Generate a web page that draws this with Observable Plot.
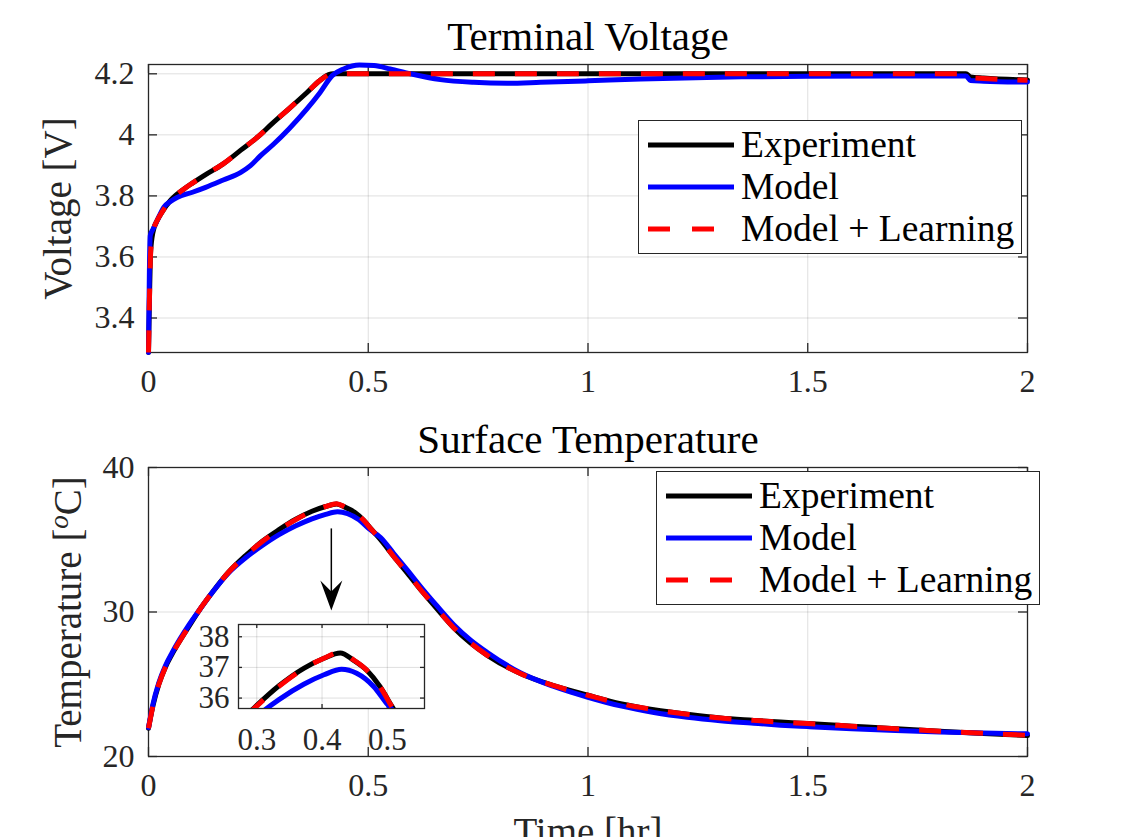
<!DOCTYPE html>
<html><head><meta charset="utf-8">
<script src="https://cdn.jsdelivr.net/npm/d3@7"></script>
<script src="https://cdn.jsdelivr.net/npm/@observablehq/plot@0.6"></script>
<style>
html,body{margin:0;padding:0;background:#fff;overflow:hidden}
#fig{position:relative;width:1136px;height:837px;overflow:hidden;background:#fff;font-family:"Liberation Serif","Times New Roman",serif;color:#262626}
.slot{position:absolute}
.legend{position:absolute;width:384px;height:134px;border:1.3px solid #262626;background:#fff;box-sizing:border-box}
.legend .row{position:absolute;left:0;height:42px;display:flex;align-items:center}
.legend .row svg{margin-left:9px;margin-right:7px;display:block}
.legend .row span{font-size:37.5px;line-height:42px;color:#000;white-space:nowrap}
</style></head><body><div id="fig"></div><script>
// ---------- data ----------
const seriesNames = ["Experiment", "Model", "Model + Learning"];
const seriesColors = ["#000000", "#0000ff", "#ff0000"];

const timeTicks = [0, 0.5, 1, 1.5, 2];
const voltTicks = [3.4, 3.6, 3.8, 4, 4.2];
const tempTicks = [20, 30, 40];
const insetTimeTicks = [0.3, 0.4, 0.5];
const insetTempTicks = [36, 37, 38];

// Terminal voltage [V] vs time [hr]
const voltTimeExp = [0, 0.002, 0.005, 0.01, 0.02, 0.03, 0.05, 0.08, 0.1, 0.13, 0.17, 0.21, 0.25, 0.28, 0.32, 0.36, 0.39, 0.41, 0.42, 0.6, 1.0, 1.5, 1.86, 1.87, 1.9, 2.0];
const voltExp   = [3.287, 3.45, 3.62, 3.68, 3.72, 3.745, 3.785, 3.822, 3.842, 3.87, 3.905, 3.95, 3.995, 4.035, 4.086, 4.138, 4.178, 4.197, 4.2, 4.2, 4.2, 4.2, 4.2, 4.19, 4.186, 4.18];
const voltLearn = [3.287, 3.45, 3.62, 3.68, 3.72, 3.745, 3.785, 3.822, 3.842, 3.87, 3.905, 3.95, 3.995, 4.035, 4.086, 4.138, 4.178, 4.197, 4.2, 4.2, 4.2, 4.2, 4.2, 4.188, 4.185, 4.179];
const voltTimeModel = [0, 0.002, 0.004, 0.01, 0.02, 0.035, 0.05, 0.065, 0.1, 0.13, 0.17, 0.21, 0.232, 0.255, 0.285, 0.32, 0.36, 0.39, 0.418, 0.444, 0.48, 0.513, 0.55, 0.596, 0.664, 0.74, 0.816, 0.892, 1.0, 1.12, 1.27, 1.35, 1.5, 1.7, 1.86, 1.87, 1.9, 2.0];
const voltModel = [3.287, 3.55, 3.67, 3.69, 3.72, 3.763, 3.782, 3.795, 3.812, 3.828, 3.852, 3.877, 3.899, 3.932, 3.97, 4.02, 4.084, 4.138, 4.194, 4.216, 4.229, 4.227, 4.216, 4.2, 4.181, 4.172, 4.169, 4.172, 4.177, 4.183, 4.188, 4.19, 4.192, 4.193, 4.193, 4.178, 4.176, 4.173];

// Surface temperature [C] vs time [hr]
const tempTimeExp = [0, 0.01, 0.0235, 0.038, 0.054, 0.092, 0.115, 0.145, 0.182, 0.221, 0.259, 0.297, 0.334, 0.372, 0.403, 0.428, 0.448, 0.469, 0.489, 0.507, 0.528, 0.558, 0.589, 0.626, 0.657, 0.695, 0.733, 0.771, 0.846, 0.922, 1.0, 1.074, 1.15, 1.226, 1.301, 1.377, 1.438, 1.5, 1.6, 1.7, 1.8, 1.9, 2.0];
const tempExp   = [21.95, 23.5, 25.0, 26.15, 27.1, 29.0, 30.1, 31.35, 32.75, 33.9, 34.9, 35.7, 36.4, 36.97, 37.3, 37.47, 37.24, 36.9, 36.37, 35.73, 35.0, 33.84, 32.69, 31.3, 30.2, 28.9, 27.85, 27.0, 25.74, 24.9, 24.24, 23.66, 23.24, 22.92, 22.66, 22.5, 22.38, 22.28, 22.1, 21.92, 21.75, 21.6, 21.45];
const tempLearn = [21.95, 23.5, 25.0, 26.15, 27.1, 29.0, 30.1, 31.35, 32.75, 33.9, 34.88, 35.68, 36.38, 36.96, 37.3, 37.5, 37.25, 36.9, 36.36, 35.72, 35.0, 33.84, 32.69, 31.3, 30.2, 28.9, 27.85, 27.0, 25.74, 24.9, 24.24, 23.66, 23.24, 22.92, 22.66, 22.5, 22.38, 22.28, 22.1, 21.92, 21.75, 21.6, 21.47];
const tempTimeModel = [0, 0.01, 0.0235, 0.038, 0.054, 0.092, 0.115, 0.145, 0.182, 0.221, 0.259, 0.297, 0.334, 0.372, 0.403, 0.43, 0.453, 0.479, 0.5, 0.528, 0.558, 0.589, 0.626, 0.657, 0.695, 0.733, 0.771, 0.846, 0.922, 1.0, 1.074, 1.15, 1.226, 1.301, 1.377, 1.438, 1.5, 1.6, 1.7, 1.8, 1.9, 2.0];
const tempModel = [22.0, 23.6, 25.1, 26.25, 27.2, 29.1, 30.1, 31.35, 32.7, 33.75, 34.6, 35.35, 35.95, 36.45, 36.76, 36.94, 36.81, 36.38, 35.8, 35.15, 34.05, 32.9, 31.5, 30.4, 29.1, 28.05, 27.2, 25.8, 24.85, 24.1, 23.5, 23.05, 22.72, 22.48, 22.3, 22.17, 22.07, 21.92, 21.8, 21.7, 21.62, 21.57];

// annotation arrow (time, temperature): tail and tip
const arrowTail = [0.416, 35.75];
const arrowTip  = [0.416, 30.1];

// ---------- helpers ----------
const FONT = "Liberation Serif, Times New Roman, serif";
const AX = "#262626";
const rows = (ts, vs) => ts.map((t, i) => ({t, v: vs[i]}));
const LW = 5;

function seriesMarks(expT, expV, modT, modV, lrnV, extra = {}) {
  return [
    Plot.line(rows(expT, expV), {x: "t", y: "v", stroke: seriesColors[0], strokeWidth: LW, curve: "monotone-x", ...extra}),
    Plot.line(rows(modT, modV), {x: "t", y: "v", stroke: seriesColors[1], strokeWidth: LW, curve: "monotone-x", ...extra}),
    Plot.line(rows(expT, lrnV), {x: "t", y: "v", stroke: seriesColors[2], strokeWidth: LW, curve: "monotone-x", strokeDasharray: "22,20", strokeLinecap: "butt", ...extra})
  ];
}
function gridMarks(xt, yt) {
  return [
    Plot.ruleX(xt, {x: d => d, stroke: AX, strokeOpacity: 0.15, strokeWidth: 1}),
    Plot.ruleY(yt, {y: d => d, stroke: AX, strokeOpacity: 0.15, strokeWidth: 1})
  ];
}
function boxMarks(xt, yt, w, h, len) {
  return [
    Plot.frame({stroke: AX, strokeWidth: 1.3}),
    Plot.tickX(xt, {x: d => d, insetTop: h - len, stroke: AX, strokeWidth: 1.3}),
    Plot.tickX(xt, {x: d => d, insetBottom: h - len, stroke: AX, strokeWidth: 1.3}),
    Plot.tickY(yt, {y: d => d, insetRight: w - len, stroke: AX, strokeWidth: 1.3}),
    Plot.tickY(yt, {y: d => d, insetLeft: w - len, stroke: AX, strokeWidth: 1.3})
  ];
}
function axisMarks(xt, yt, xpad, ypad, fs) {
  return [
    Plot.axisX({ticks: xt, tickSize: 0, tickPadding: xpad, fontSize: fs, fontFamily: FONT, fontVariant: "normal", fill: AX, tickFormat: d => String(d), label: null}),
    Plot.axisY({ticks: yt, tickSize: 0, tickPadding: ypad, fontSize: fs, fontFamily: FONT, fontVariant: "normal", fill: AX, tickFormat: d => String(d), label: null})
  ];
}
function place(el, left, top, width) {
  const d = document.createElement("div");
  d.className = "slot";
  d.style.left = left + "px"; d.style.top = top + "px"; d.style.width = width + "px";
  d.appendChild(el);
  document.getElementById("fig").appendChild(d);
}
function legend(left, top) {
  const box = document.createElement("div");
  box.className = "legend";
  box.style.left = left + "px"; box.style.top = top + "px";
  const centers = [25, 67, 109];
  seriesNames.forEach((name, i) => {
    const r = document.createElement("div");
    r.className = "row";
    r.style.top = (centers[i] - 22) + "px";
    const dash = i === 2 ? ' stroke-dasharray="22,22"' : "";
    r.innerHTML = `<svg width="86" height="10"><line x1="0" x2="86" y1="5" y2="5" stroke="${seriesColors[i]}" stroke-width="${LW}"${dash}/></svg><span>${name}</span>`;
    box.appendChild(r);
  });
  document.getElementById("fig").appendChild(box);
}
const svgStyle = {fontFamily: FONT, fontSize: "32px", color: AX, background: "transparent", overflow: "visible"};
const txt = (s, o) => Plot.text([s], {text: d => d, fontFamily: FONT, ...o});

// ---------- top: terminal voltage ----------
const topPlot = Plot.plot({
  width: 1136, height: 400,
  marginLeft: 148, marginRight: 109, marginTop: 64, marginBottom: 48,
  x: {domain: [0, 2], axis: null},
  y: {domain: [3.287, 4.2305], axis: null},
  style: svgStyle,
  marks: [
    ...gridMarks(timeTicks, voltTicks),
    ...boxMarks(timeTicks, voltTicks, 879, 288, 9),
    ...axisMarks(timeTicks, voltTicks, 17, 14, 32),
    ...seriesMarks(voltTimeExp, voltExp, voltTimeModel, voltModel, voltLearn),
    txt("Terminal Voltage", {frameAnchor: "top", textAnchor: "middle", lineAnchor: "bottom", dy: -15, fontSize: 41, fill: "#000"}),
    txt("Voltage [V]", {frameAnchor: "left", textAnchor: "middle", rotate: -90, lineAnchor: "bottom", dx: -78, fontSize: 39, fill: AX})
  ]
});
place(topPlot, 0, 0, 1136);

// ---------- bottom: surface temperature ----------
const vback = {
  draw(ctx) {
    ctx.moveTo(0, 0); ctx.lineTo(-11, -30); ctx.lineTo(0, -19); ctx.lineTo(11, -30); ctx.closePath();
  }
};
const botPlot = Plot.plot({
  width: 1136, height: 460,
  marginLeft: 148, marginRight: 109, marginTop: 67, marginBottom: 104,
  x: {domain: [0, 2], axis: null},
  y: {domain: [20, 40], axis: null},
  style: svgStyle,
  marks: [
    ...gridMarks(timeTicks, tempTicks),
    ...boxMarks(timeTicks, tempTicks, 879, 289, 9),
    ...axisMarks(timeTicks, tempTicks, 17, 14, 32),
    ...seriesMarks(tempTimeExp, tempExp, tempTimeModel, tempModel, tempLearn),
    Plot.ruleX([0], {x: () => arrowTail[0], y1: () => arrowTail[1], y2: () => arrowTip[1] + 1.0, stroke: "#000", strokeWidth: 1.5}),
    Plot.dot([0], {x: () => arrowTip[0], y: () => arrowTip[1], symbol: vback, fill: "#000", stroke: "none"}),
    txt("Surface Temperature", {frameAnchor: "top", textAnchor: "middle", lineAnchor: "bottom", dy: -15, fontSize: 41, fill: "#000"}),
    txt("Temperature [oC]", {frameAnchor: "left", textAnchor: "middle", rotate: -90, lineAnchor: "bottom", dx: -68, fontSize: 39, fill: AX}),
    txt("Time [hr]", {frameAnchor: "bottom", textAnchor: "middle", lineAnchor: "bottom", dy: 88, fontSize: 39, fill: AX})
  ]
});
botPlot.querySelectorAll("text").forEach(t => {
  if (t.textContent === "Temperature [oC]") {
    t.textContent = "";
    const ns = "http://www.w3.org/2000/svg";
    const a = document.createElementNS(ns, "tspan"); a.textContent = "Temperature [";
    const b = document.createElementNS(ns, "tspan"); b.textContent = "o";
    b.setAttribute("dy", "-13"); b.setAttribute("font-size", "27"); b.setAttribute("font-style", "italic");
    const c = document.createElementNS(ns, "tspan"); c.textContent = "C]"; c.setAttribute("dy", "13");
    t.append(a, b, c);
  }
});
place(botPlot, 0, 400, 1136);

// ---------- inset (zoom on the temperature peak) ----------
const insetPlot = Plot.plot({
  width: 290, height: 160,
  marginLeft: 88, marginRight: 16, marginTop: 24, marginBottom: 52,
  x: {domain: [0.272, 0.557], axis: null},
  y: {domain: [35.66, 38.4], axis: null},
  style: svgStyle,
  marks: [
    Plot.frame({fill: "#fff"}),
    ...gridMarks(insetTimeTicks, insetTempTicks),
    ...boxMarks(insetTimeTicks, insetTempTicks, 186, 84, 4),
    ...axisMarks(insetTimeTicks, insetTempTicks, 19, 9, 31),
    ...seriesMarks(tempTimeExp, tempExp, tempTimeModel, tempModel, tempLearn, {clip: true})
  ]
});
place(insetPlot, 150, 600, 290);

legend(638, 120);
legend(656, 471);
</script></body></html>
